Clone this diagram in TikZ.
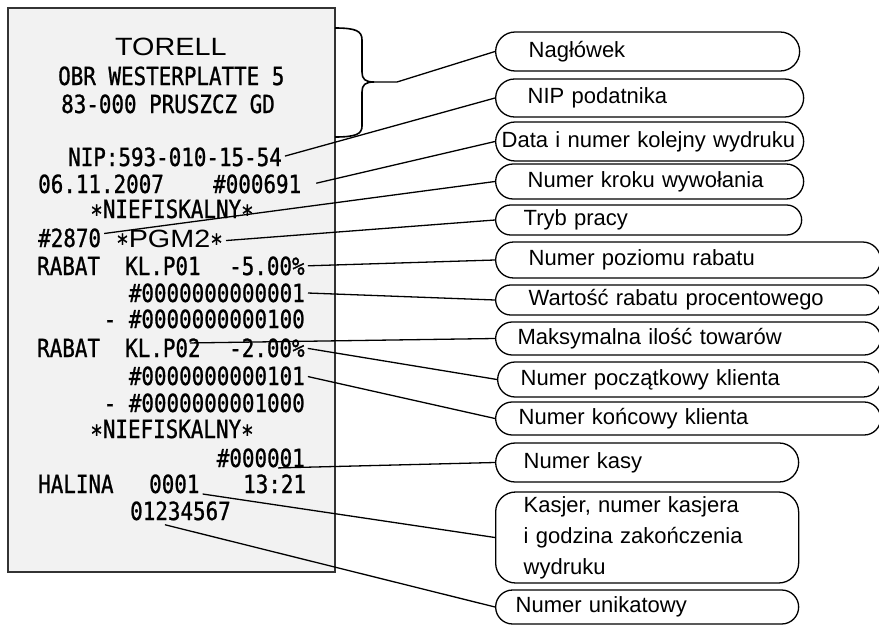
\documentclass[tikz,border=0pt]{standalone}
\usepackage{fontspec}
\setmainfont{Liberation Sans}
\newfontfamily\drukfont[FakeStretch=0.835, FakeBold=1]{DejaVu Sans Mono}
\newfontfamily\tytulfont[FakeStretch=1.15]{Liberation Sans}
\newcommand{\gw}{\raisebox{-5pt}{*}}
\definecolor{papier}{HTML}{F2F2F2}
\tikzset{
  paragon/.style={fill=papier, draw=black!80, line width=1.4pt},
  druk/.style={font=\drukfont\fontsize{25}{25}\selectfont, inner sep=0pt, anchor=base west},
  tytul/.style={font=\tytulfont\fontsize{25}{25}\selectfont, inner sep=0pt, anchor=base west},
  opis/.style={draw, line width=1.3pt, anchor=west, align=left, inner ysep=0pt,
    minimum height=#1, rounded corners=#1/2, font=\fontsize{22}{31}\selectfont},
  linia/.style={line width=1.3pt, shorten <=3pt},
}
\begin{document}
\begin{tikzpicture}[x=1pt,y=-1pt]
    \useasboundingbox (0,0) rectangle (879,627);

    % paragon
    \draw[paragon] (8,8) rectangle (335,572);

    % tekst paragonu
    \node[tytul] (ttorell) at (115,55) {TORELL};
    \node[druk] (tadres) at (58,85) {OBR WESTERPLATTE 5};
    \node[druk] (tmiasto) at (61,113) {83-000 PRUSZCZ GD};
    \node[druk] (tnip) at (68,166) {NIP:593-010-15-54};
    \node[druk] (tdata) at (38,193) {06.11.2007};
    \node[druk] (twydruk) at (213,193) {\#000691};
    \node[druk, anchor=base] (tnief1) at (172,218) {\gw NIEFISKALNY\gw};
    \node[druk] (tkrok) at (38,247) {\#2870};
    \node[druk] (tpgm) at (116,247) {\gw{\tytulfont\fontsize{25}{25}\selectfont PGM2}\gw};
    \node[druk] (trab1) at (37,275) {RABAT};
    \node[druk] (tkl1) at (125,275) {KL.P01};
    \node[druk] (tproc1) at (229,275) {-5.00\%};
    \node[druk, anchor=base east] (tod1) at (305,302) {\#0000000000001};
    \node[druk, anchor=base east] (tdo1) at (305,328) {- \#0000000000100};
    \node[druk] (trab2) at (37,357) {RABAT};
    \node[druk] (tkl2) at (125,357) {KL.P02};
    \node[druk] (tproc2) at (229,357) {-2.00\%};
    \node[druk, anchor=base east] (tod2) at (305,385) {\#0000000000101};
    \node[druk, anchor=base east] (tdo2) at (305,412) {- \#0000000001000};
    \node[druk, anchor=base] (tnief2) at (172,438) {\gw NIEFISKALNY\gw};
    \node[druk, anchor=base east] (tkasa) at (305,467) {\#000001};
    \node[druk] (tkasjer) at (38,493) {HALINA};
    \node[druk] (tnrkasjera) at (149,493) {0001};
    \node[druk] (tgodzina) at (243,493) {13:21};
    \node[druk] (tunikat) at (130,520) {01234567};

    % klamra przy naglowku
    \draw[line width=1.6pt] (335,28) .. controls (356,28) and (362,31) .. (362,40) -- (362,72)
        .. controls (362,79) and (365,82) .. (374,82)
        .. controls (365,82) and (362,85) .. (362,92) -- (362,126)
        .. controls (362,134) and (356,137) .. (335,137);
    \coordinate (klamra) at (374,82);

    % punkty wewnatrz tekstu
    \coordinate (pmaks) at (187,343);
    \coordinate (pkasa) at (275,468);
    \coordinate (punik) at (162,524);

    % opisy
    \node[opis=39pt, text width=238pt, inner xsep=33pt] (naglowek) at (495,51.5) {Nagłówek};
    \node[opis=38pt, text width=244pt, inner xsep=32pt] (nip) at (495,98) {NIP podatnika};
    \node[opis=39pt, text width=296pt, inner xsep=6pt] (data) at (495,141.5) {Data i numer kolejny wydruku};
    \node[opis=35pt, text width=244pt, inner xsep=32pt] (krok) at (495,181.5) {Numer kroku wywołania};
    \node[opis=30pt, text width=250pt, inner xsep=28pt] (tryb) at (495,220) {Tryb pracy};
    \node[opis=36pt, text width=319pt, inner xsep=33pt] (poziom) at (495,260) {Numer poziomu rabatu};
    \node[opis=30pt, text width=319pt, inner xsep=33pt] (wartosc) at (495,300) {Wartość rabatu procentowego};
    \node[opis=33pt, text width=341pt, inner xsep=22pt] (maks) at (495,338.5) {Maksymalna ilość towarów};
    \node[opis=35pt, text width=337pt, inner xsep=23pt] (poczatek) at (497,379.5) {Numer początkowy klienta};
    \node[opis=33pt, text width=339pt, inner xsep=23pt] (koniec) at (495,418.5) {Numer końcowy klienta};
    \node[opis=39pt, text width=247pt, inner xsep=28pt] (kasa) at (495,462.5) {Numer kasy};
    \node[opis=91pt, rounded corners=20pt, text width=247pt, inner xsep=28pt] (kasjer) at (495,537.5)
        {Kasjer, numer kasjera\\i godzina zakończenia\\wydruku};
    \node[opis=34pt, text width=263pt, inner xsep=20pt] (unikat) at (495,607) {Numer unikatowy};

    % linie
    \draw[linia, shorten <=0pt] (klamra) -- ++(23,0) -- (naglowek.west);
    \draw[linia] (tnip.east) -- (nip.west);
    \draw[linia] ([xshift=12pt]twydruk.east) -- (data.west);
    \draw[linia] ([yshift=4pt]tkrok.east) -- (krok.west);
    \draw[linia] (tpgm.east) -- (tryb.west);
    \draw[linia] (tproc1.east) -- (poziom.west);
    \draw[linia] (tod1.east) -- (wartosc.west);
    \draw[linia] (pmaks) -- (maks.west);
    \draw[linia] (tproc2.east) -- (poczatek.west);
    \draw[linia] (tod2.east) -- (koniec.west);
    \draw[linia] (pkasa) -- (kasa.west);
    \draw[linia] (tnrkasjera.south east) -- (kasjer.west);
    \draw[linia] (punik) -- (unikat.west);
\end{tikzpicture}
\end{document}
